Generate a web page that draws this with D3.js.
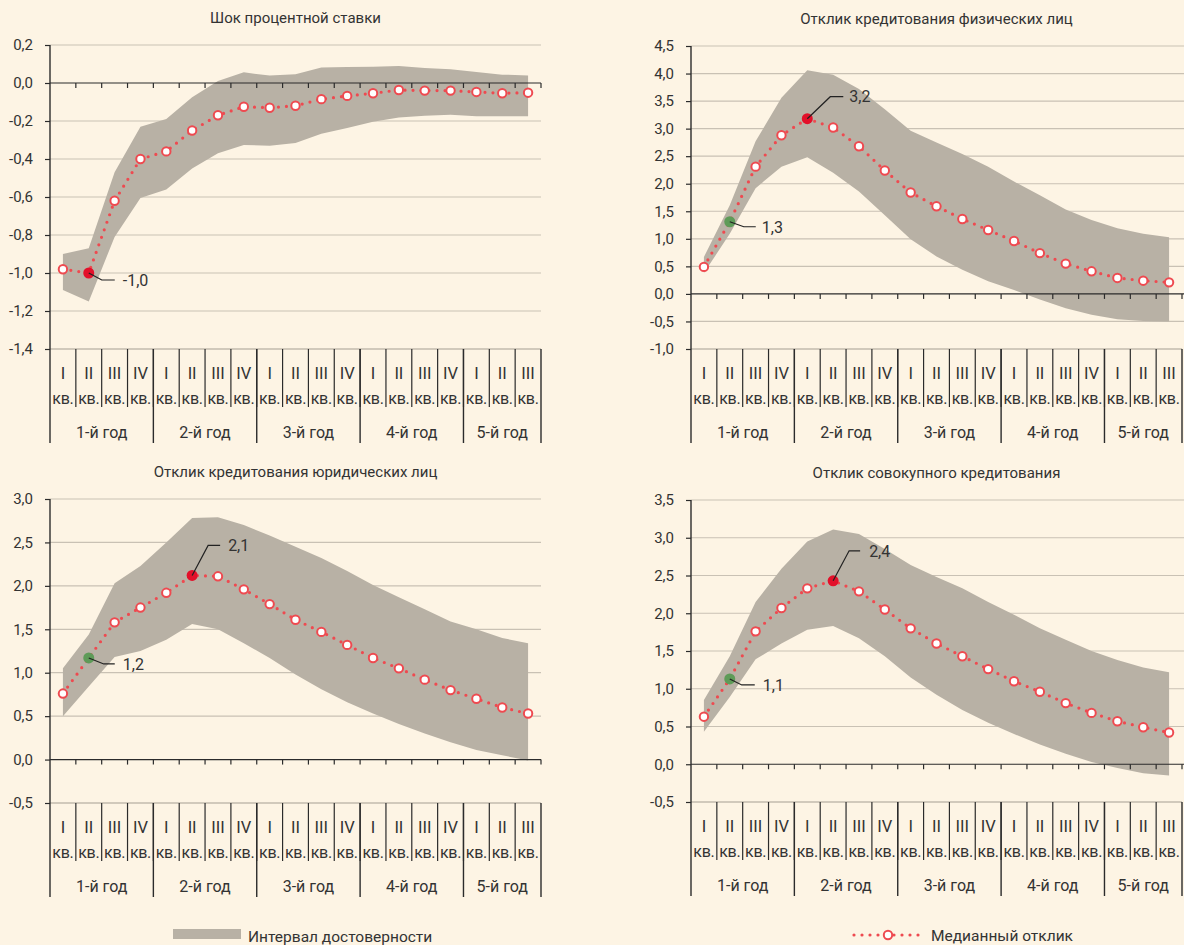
<!DOCTYPE html>
<html>
<head>
<meta charset="utf-8">
<script src="https://cdn.jsdelivr.net/npm/d3@7"></script>
<style>
  html, body { margin: 0; padding: 0; background: #FDF4E4; }
  svg { display: block; font-family: Roboto, "Noto Sans", sans-serif; }
</style>
</head>
<body>
<svg id="chart" width="1184" height="945"></svg>
<script>
// ---------- data ----------
const quarters = ["I","II","III","IV","I","II","III","IV","I","II","III","IV","I","II","III","IV","I","II","III"];
const quarterSuffix = "кв.";
const years = ["1-й год","2-й год","3-й год","4-й год","5-й год"];
const yearSpans = [4,4,4,4,3];

const shockMedian = [-0.98,-1.00,-0.62,-0.40,-0.36,-0.25,-0.17,-0.125,-0.13,-0.12,-0.085,-0.068,-0.054,-0.037,-0.040,-0.040,-0.047,-0.054,-0.051];
const shockUpper  = [-0.90,-0.87,-0.47,-0.23,-0.19,-0.075,0.01,0.056,0.039,0.046,0.081,0.084,0.086,0.089,0.079,0.072,0.058,0.044,0.040];
const shockLower  = [-1.09,-1.15,-0.81,-0.605,-0.56,-0.45,-0.37,-0.326,-0.33,-0.316,-0.267,-0.237,-0.204,-0.181,-0.172,-0.167,-0.175,-0.175,-0.175];

const householdMedian = [0.49,1.31,2.31,2.88,3.18,3.02,2.68,2.24,1.84,1.59,1.36,1.16,0.96,0.74,0.55,0.41,0.29,0.24,0.21];
const householdUpper  = [0.67,1.61,2.77,3.56,4.06,3.98,3.72,3.35,2.96,2.75,2.54,2.31,2.04,1.79,1.53,1.34,1.19,1.09,1.03];
const householdLower  = [0.38,1.09,1.92,2.31,2.48,2.20,1.86,1.43,0.99,0.68,0.44,0.23,0.07,-0.10,-0.26,-0.38,-0.46,-0.49,-0.50];

const corporateMedian = [0.76,1.17,1.58,1.75,1.92,2.12,2.11,1.96,1.79,1.61,1.47,1.32,1.17,1.05,0.92,0.80,0.70,0.60,0.53];
const corporateUpper  = [1.05,1.44,2.03,2.23,2.50,2.78,2.79,2.70,2.58,2.45,2.32,2.17,2.01,1.87,1.73,1.59,1.50,1.40,1.34];
const corporateLower  = [0.50,0.84,1.18,1.25,1.38,1.56,1.50,1.34,1.17,0.98,0.81,0.66,0.53,0.41,0.30,0.20,0.11,0.05,-0.01];

const totalMedian = [0.63,1.13,1.76,2.07,2.33,2.43,2.29,2.05,1.80,1.60,1.43,1.26,1.10,0.96,0.81,0.68,0.57,0.49,0.42];
const totalUpper  = [0.85,1.43,2.15,2.59,2.95,3.11,3.05,2.85,2.64,2.48,2.33,2.15,1.98,1.80,1.65,1.50,1.38,1.28,1.22];
const totalLower  = [0.43,0.89,1.39,1.60,1.78,1.83,1.67,1.43,1.15,0.92,0.72,0.55,0.40,0.26,0.14,0.03,-0.05,-0.12,-0.15];

const titles = ["Шок процентной ставки","Отклик кредитования физических лиц","Отклик кредитования юридических лиц","Отклик совокупного кредитования"];
const yDomains = [[-1.4,0.2],[-1.0,4.5],[-0.5,3.0],[-0.5,3.5]];
const yStep = [0.2,0.5,0.5,0.5];
// highlighted points: [panel, index, kind, label]
const highlights = [
  [0,1,"red","-1,0"],
  [1,1,"green","1,3"],[1,4,"red","3,2"],
  [2,1,"green","1,2"],[2,5,"red","2,1"],
  [3,1,"green","1,1"],[3,5,"red","2,4"]
];
const legendLabels = ["Интервал достоверности","Медианный отклик"];

// ---------- layout / style ----------
const layout = [
  {x0:50, x1:541, yTop:45, yBot:349},
  {x0:691, x1:1182, yTop:46, yBot:349},
  {x0:50, x1:541, yTop:499, yBot:803},
  {x0:691, x1:1182, yTop:500, yBot:802}
];
// leader offsets per highlight (dx, dy to elbow, horizontal length, text gap)
const leaderStyle = [
  [13,7,13,8],
  [14,5,12,6],[23,-22,13,6],
  [15,6,11,8],[16,-30,12,8],
  [12,6,13,8],[16,-30,11,9]
];
const C = {
  band:"#B8B1A5", grid:"#C9C1B4", axis:"#2b2b2b", text:"#333333",
  line:"#EE4A50", marker:"#EE4A50", red:"#E3102A", green:"#5E9B58", bottom:"#A59D92"
};

const series = [
  [shockMedian, shockLower, shockUpper],
  [householdMedian, householdLower, householdUpper],
  [corporateMedian, corporateLower, corporateUpper],
  [totalMedian, totalLower, totalUpper]
];

const svg = d3.select("#chart");
const fmt = v => { let s = (Math.round(v*10)/10).toFixed(1).replace(".", ","); return s === "-0,0" ? "0,0" : s; };

series.forEach((ser, p) => {
  const L = layout[p];
  const [med, lo, hi] = ser;
  const g = svg.append("g");
  const x = d3.scaleBand().domain(d3.range(quarters.length)).range([L.x0, L.x1]).padding(0);
  const cx = i => x(i) + x.bandwidth()/2;
  const y = d3.scaleLinear().domain(yDomains[p]).range([L.yBot, L.yTop]);
  const [dmin, dmax] = yDomains[p];
  const nT = Math.round((dmax - dmin)/yStep[p]);
  const ticks = d3.range(nT+1).map(i => Math.round((dmin + i*yStep[p])*10)/10);

  // gridlines
  g.selectAll(".grid").data(ticks.filter(t => t !== 0 && t !== dmin)).join("line")
    .attr("x1", L.x0).attr("x2", L.x1 + (p%2 ? 2 : 0)).attr("y1", d => y(d)).attr("y2", d => y(d))
    .attr("stroke", C.grid).attr("stroke-width", 1.2);
  g.append("line").attr("x1", L.x0).attr("x2", L.x1).attr("y1", y(dmin)).attr("y2", y(dmin))
    .attr("stroke", C.bottom).attr("stroke-width", 1.2);

  // band
  const area = d3.area().x((d,i) => cx(i)).y0((d,i) => y(lo[i])).y1((d,i) => y(hi[i]));
  g.append("path").datum(med).attr("d", area).attr("fill", C.band);

  // zero axis with ticks
  g.append("line").attr("x1", L.x0).attr("x2", L.x1 + (p%2 ? 2 : 0)).attr("y1", y(0)).attr("y2", y(0))
    .attr("stroke", C.axis).attr("stroke-width", 1.2);
  g.selectAll(".xt").data(d3.range(1, quarters.length+1)).join("line")
    .attr("x1", i => x(i-1) + x.bandwidth()).attr("x2", i => x(i-1) + x.bandwidth())
    .attr("y1", y(0)).attr("y2", y(0)+5).attr("stroke", C.axis).attr("stroke-width", 1.2);

  // y axis
  const yAxis = d3.axisLeft(y).tickValues(ticks).tickSize(5).tickPadding(12).tickFormat(fmt);
  const ya = g.append("g").attr("transform", `translate(${L.x0},0)`).call(yAxis);
  ya.select(".domain").remove();
  ya.selectAll(".tick line").attr("stroke", C.axis).attr("stroke-width", 1.2);
  ya.selectAll(".tick text").attr("fill", C.text).style("font-size", "15px").style("font-family", "Roboto");
  g.append("line").attr("x1", L.x0).attr("x2", L.x0).attr("y1", L.yTop).attr("y2", L.yBot + 94)
    .attr("stroke", C.axis).attr("stroke-width", 1.4);

  // category separators and labels
  g.selectAll(".sep").data(d3.range(1, quarters.length)).join("line")
    .attr("x1", i => x(i)).attr("x2", i => x(i)).attr("y1", L.yBot).attr("y2", L.yBot + 58)
    .attr("stroke", C.axis).attr("stroke-width", 1.2);
  g.selectAll(".q").data(quarters).join("text")
    .attr("x", (d,i) => cx(i)).attr("y", L.yBot + 30).attr("text-anchor", "middle")
    .attr("fill", C.text).style("font-size", "16.5px").text(d => d);
  g.selectAll(".qs").data(quarters).join("text")
    .attr("x", (d,i) => cx(i)).attr("y", L.yBot + 55).attr("text-anchor", "middle")
    .attr("fill", C.text).style("font-size", "16px").style("letter-spacing", "-0.3px").text(quarterSuffix);
  const cum = [0]; yearSpans.forEach(s => cum.push(cum[cum.length-1] + s));
  g.selectAll(".ysep").data(cum.slice(1)).join("line")
    .attr("x1", k => k === quarters.length ? L.x1 : x(k)).attr("x2", k => k === quarters.length ? L.x1 : x(k))
    .attr("y1", L.yBot).attr("y2", L.yBot + 94).attr("stroke", C.axis).attr("stroke-width", 1.4);
  g.selectAll(".yl").data(years).join("text")
    .attr("x", (d,i) => { const a = x(cum[i]); const b = cum[i+1] === quarters.length ? L.x1 : x(cum[i+1]); return (a+b)/2; })
    .attr("y", L.yBot + 89).attr("text-anchor", "middle").attr("fill", C.text).style("font-size", "16px").text(d => d);

  // title
  g.append("text").attr("x", (L.x0 + L.x1)/2).attr("y", L.yTop - 22).attr("text-anchor", "middle")
    .attr("fill", C.text).style("font-size", "15px").text(titles[p]);

  // median dotted line
  const line = d3.line().x((d,i) => cx(i)).y(d => y(d));
  g.append("path").datum(med).attr("d", line).attr("fill", "none")
    .attr("stroke", C.line).attr("stroke-width", 3.2).attr("stroke-linecap", "round").attr("stroke-dasharray", "0 8");

  const hl = highlights.map((h, k) => [...h, k]).filter(h => h[0] === p);
  const hIdx = hl.map(h => h[1]);
  g.selectAll(".m").data(med.map((v,i) => [v,i]).filter(d => !hIdx.includes(d[1]))).join("circle")
    .attr("cx", d => cx(d[1])).attr("cy", d => y(d[0])).attr("r", 4.2)
    .attr("fill", "#ffffff").attr("stroke", C.marker).attr("stroke-width", 2);

  hl.forEach(([pp, idx, kind, label, k]) => {
    const px = cx(idx), py = y(med[idx]);
    const [dx, dy, hlen, gap] = leaderStyle[k];
    g.append("circle").attr("cx", px).attr("cy", py).attr("r", 5.5).attr("fill", kind === "red" ? C.red : C.green);
    g.append("polyline").attr("points", `${px},${py} ${px+dx},${py+dy} ${px+dx+hlen},${py+dy}`)
      .attr("fill", "none").attr("stroke", "#222").attr("stroke-width", 1.2);
    g.append("text").attr("x", px+dx+hlen+gap).attr("y", py+dy).attr("dy", "0.36em")
      .attr("fill", C.text).style("font-size", "16px").text(label);
  });
});

// legend
const lg = svg.append("g");
lg.append("rect").attr("x", 173).attr("y", 929).attr("width", 68).attr("height", 10).attr("fill", C.band);
lg.append("text").attr("x", 248).attr("y", 936).attr("dy", "0.36em").attr("fill", C.text).style("font-size", "15.5px").text(legendLabels[0]);
lg.append("line").attr("x1", 854).attr("x2", 919).attr("y1", 935).attr("y2", 935)
  .attr("stroke", C.line).attr("stroke-width", 3.2).attr("stroke-linecap", "round").attr("stroke-dasharray", "0 8");
lg.append("circle").attr("cx", 888).attr("cy", 935).attr("r", 4.2).attr("fill", "#fff").attr("stroke", C.marker).attr("stroke-width", 2);
lg.append("text").attr("x", 931).attr("y", 935).attr("dy", "0.36em").attr("fill", C.text).style("font-size", "15.5px").text(legendLabels[1]);
</script>
</body>
</html>
